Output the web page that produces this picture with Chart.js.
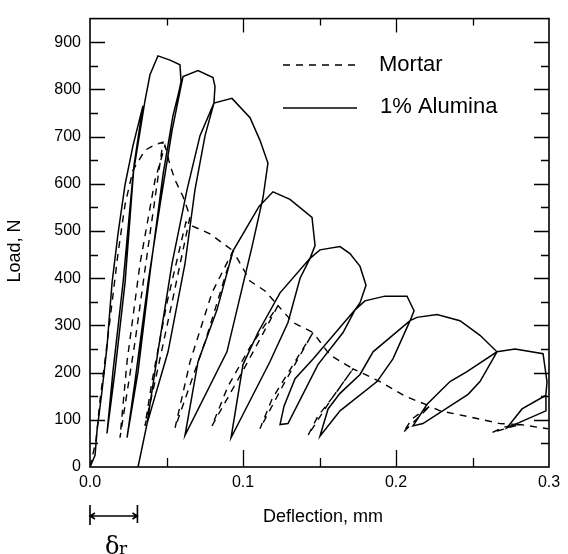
<!DOCTYPE html>
<html>
<head>
<meta charset="utf-8">
<script src="https://cdn.jsdelivr.net/npm/chart.js@4"></script>
<style>
  html, body { margin: 0; padding: 0; background: #fff; }
</style>
</head>
<body>
<canvas id="myChart" width="568" height="554"></canvas>
<script>
// Deflection (mm) and load (N), in drawing order
const aluminaX = [
  0, 0.0033, 0.0046, 0.0078, 0.0111, 0.0144, 0.0183, 0.0229, 0.0281, 0.0346,
  0.0288, 0.0229, 0.0163, 0.0111,
  0.0150, 0.0216, 0.0281, 0.0359,
  0.0392, 0.0444, 0.0523, 0.0588, 0.0595, 0.0582,
  0.0542, 0.0477, 0.0392, 0.0314, 0.0242,
  0.0294, 0.0379, 0.0458, 0.0536, 0.0588, 0.0608,
  0.0706, 0.0804, 0.0817, 0.0810,
  0.0752, 0.0686, 0.0621, 0.0510, 0.0373, 0.0314,
  0.0373, 0.0444, 0.0536, 0.0634, 0.0719, 0.0810,
  0.0928, 0.1046, 0.1111, 0.1163, 0.1131,
  0.1059, 0.0895, 0.0621,
  0.0706, 0.0830, 0.0935, 0.1105,
  0.1196, 0.1307, 0.1451, 0.1471, 0.1438,
  0.1373, 0.1294, 0.1176, 0.0922,
  0.1000, 0.1098, 0.1242, 0.1438,
  0.1503, 0.1634, 0.1699, 0.1765, 0.1804, 0.1765, 0.1732,
  0.1654, 0.1490, 0.1294, 0.1242,
  0.1268, 0.1340, 0.1458, 0.1732,
  0.1797, 0.1928, 0.2072, 0.2118, 0.2092,
  0.1980, 0.1876, 0.1634, 0.1503,
  0.1556, 0.1634, 0.1765, 0.1850, 0.2092,
  0.2137, 0.2268, 0.2418, 0.2549, 0.2660,
  0.2549, 0.2471, 0.2176, 0.2111,
  0.2203, 0.2353, 0.2464, 0.2660,
  0.2778, 0.2961, 0.2987, 0.2980, 0.2980,
  0.2725,
  0.2824, 0.2980
];
const aluminaY = [
  0, 25, 77, 160, 254, 390, 494, 598, 681, 765,
  640, 390, 202, 71,
  202, 390, 619, 775,
  831, 871, 862, 852, 817, 796,
  744, 619, 410, 202, 62,
  181, 390, 556, 712, 796, 827,
  840, 825, 806, 771,
  702, 587, 431, 244, 92, 0,
  92, 244, 431, 587, 702, 771,
  781, 740, 692, 644, 571,
  467, 244, 67,
  223, 333, 458, 552,
  583, 567, 529, 469, 442,
  400, 306, 223, 62,
  217, 285, 369, 442,
  460, 467, 452, 425, 385, 348, 333,
  285, 217, 92, 90,
  129, 187, 229, 333,
  352, 362, 362, 331, 310,
  229, 181, 119, 65,
  123, 156, 196, 244, 310,
  317, 323, 310, 279, 244,
  181, 154, 92, 87,
  133, 181, 202, 244,
  250, 240, 181, 154, 119,
  83,
  123, 152
];
const mortarX = [
  0, 0.0039, 0.0065, 0.0105, 0.0144, 0.0183, 0.0229, 0.0281, 0.0359, 0.0425, 0.0477,
  0.0392, 0.0294, 0.0196,
  0.0242, 0.0327, 0.0425, 0.0490,
  0.0523, 0.0556, 0.0608, 0.0654,
  0.0536, 0.0425, 0.0359,
  0.0405, 0.0503, 0.0627,
  0.0673, 0.0784, 0.0935,
  0.0752, 0.0556,
  0.0654, 0.0797, 0.0935,
  0.1046, 0.1144, 0.1229,
  0.1013, 0.0797,
  0.0902, 0.1046, 0.1229,
  0.1327, 0.1458,
  0.1275, 0.1111,
  0.1190, 0.1307, 0.1458,
  0.1569, 0.1719,
  0.1569, 0.1425,
  0.1490, 0.1601, 0.1719,
  0.1895, 0.2059, 0.2222,
  0.2124, 0.2046,
  0.2105, 0.2222,
  0.2288, 0.2484, 0.2680, 0.2810,
  0.2712, 0.2627,
  0.2712, 0.2810,
  0.2993
];
const mortarY = [
  0, 56, 140, 244, 348, 452, 556, 629, 671, 683, 688,
  494, 265, 62,
  223, 431, 608, 681,
  640, 608, 573, 531,
  348, 181, 87,
  181, 348, 519,
  510, 494, 458,
  265, 83,
  223, 369, 458,
  394, 373, 342,
  212, 87,
  171, 254, 342,
  306, 285,
  181, 81,
  144, 206, 285,
  237, 208,
  140, 67,
  108, 154, 208,
  181, 150, 129,
  98, 73,
  102, 129,
  119, 106, 92, 90,
  81, 73,
  85, 90,
  81
];
const xTicks = [0, 0.1, 0.2, 0.3];
const yTicks = [0, 100, 200, 300, 400, 500, 600, 700, 800, 900];
const residualDeflection = 0.031; // the delta-r span under the axis

const FONT = '"Liberation Sans", Arial, sans-serif';

function toPoints(xs, ys) {
  return xs.map((v, i) => ({ x: v, y: ys[i] }));
}

// frame and inward tick marks on all four sides
const axisFrame = {
  id: 'axisFrame',
  afterDatasetsDraw(chart) {
    const { ctx, chartArea: a, scales: { x, y } } = chart;
    ctx.save();
    ctx.strokeStyle = '#000';
    ctx.lineWidth = 1.6;
    ctx.strokeRect(a.left, a.top, a.right - a.left, a.bottom - a.top);
    ctx.lineWidth = 1.3;
    ctx.beginPath();
    for (let v = 50; v <= 900; v += 50) {
      const py = Math.round(y.getPixelForValue(v)) + 0.5;
      const len = v % 100 === 0 ? 15 : 8;
      ctx.moveTo(a.left, py); ctx.lineTo(a.left + len, py);
      ctx.moveTo(a.right, py); ctx.lineTo(a.right - len, py);
    }
    for (let i = 1; i < 6; i++) {
      const px = Math.round(x.getPixelForValue(i * 0.05)) + 0.5;
      const major = i % 2 === 0;
      ctx.moveTo(px, a.bottom); ctx.lineTo(px, a.bottom - (major ? 17 : 9));
      ctx.moveTo(px, a.top); ctx.lineTo(px, a.top + (major ? 14 : 7));
    }
    ctx.stroke();
    ctx.restore();
  },
  afterDraw(chart) {
    const { ctx, chartArea: a, scales: { x } } = chart;
    ctx.save();
    ctx.fillStyle = '#000';
    ctx.strokeStyle = '#000';

    // legend
    const lx0 = a.left + 193, lx1 = a.left + 267;
    ctx.lineWidth = 1.4;
    ctx.setLineDash([7, 6]);
    ctx.beginPath(); ctx.moveTo(lx0, 65); ctx.lineTo(lx1, 65); ctx.stroke();
    ctx.setLineDash([]);
    ctx.beginPath(); ctx.moveTo(lx0, 108); ctx.lineTo(lx1, 108); ctx.stroke();
    ctx.font = '22px ' + FONT;
    ctx.textBaseline = 'middle';
    ctx.textAlign = 'left';
    ctx.fillText('Mortar', a.left + 289, 65);
    ctx.fillText('1% Alumina', a.left + 290, 107);

    // axis titles
    ctx.font = '18px ' + FONT;
    ctx.textAlign = 'center';
    ctx.fillText('Deflection, mm', 323, 517);
    ctx.save();
    ctx.translate(15, 251);
    ctx.rotate(-Math.PI / 2);
    ctx.fillText('Load, N', 0, 0);
    ctx.restore();

    // residual deflection marker
    const x0 = x.getPixelForValue(0), x1 = x.getPixelForValue(residualDeflection);
    const my = 516;
    ctx.lineWidth = 1.6;
    ctx.beginPath();
    ctx.moveTo(x0, my); ctx.lineTo(x1, my);
    ctx.moveTo(x0, my - 11); ctx.lineTo(x0, my + 9);
    ctx.moveTo(x1, my - 11); ctx.lineTo(x1, my + 7);
    ctx.moveTo(x0 + 5, my - 3); ctx.lineTo(x0, my); ctx.lineTo(x0 + 5, my + 3);
    ctx.moveTo(x1 - 5, my - 3); ctx.lineTo(x1, my); ctx.lineTo(x1 - 5, my + 3);
    ctx.stroke();
    ctx.font = '24px "DejaVu Serif", serif';
    ctx.textAlign = 'left';
    ctx.textBaseline = 'alphabetic';
    ctx.fillText('δ', x0 + 15, 554);
    ctx.font = '17px "DejaVu Serif", serif';
    ctx.fillText('r', x0 + 29, 554);
    ctx.restore();
  }
};

new Chart(document.getElementById('myChart'), {
  type: 'line',
  data: {
    datasets: [{
      label: 'Mortar',
      data: toPoints(mortarX, mortarY),
      borderColor: '#000',
      borderWidth: 1.4,
      borderDash: [7, 6],
      pointRadius: 0,
      tension: 0,
      fill: false
    }, {
      label: '1% Alumina',
      data: toPoints(aluminaX, aluminaY),
      borderColor: '#000',
      borderWidth: 1.5,
      pointRadius: 0,
      tension: 0,
      fill: false
    }]
  },
  options: {
    responsive: false,
    animation: false,
    devicePixelRatio: 1,
    layout: { padding: { left: 0, top: 11, right: 19, bottom: 0 } },
    plugins: { legend: { display: false }, tooltip: { enabled: false } },
    scales: {
      x: {
        type: 'linear',
        min: 0,
        max: 0.3,
        grid: { display: false, drawTicks: false },
        border: { display: false },
        afterBuildTicks: s => { s.ticks = xTicks.map(v => ({ value: v })); },
        afterFit: s => { s.height = 87; },
        ticks: {
          color: '#000',
          padding: 6,
          maxRotation: 0,
          font: { family: FONT, size: 16 },
          callback: v => v.toFixed(1)
        }
      },
      y: {
        min: 0,
        max: 950,
        grid: { display: false, drawTicks: false },
        border: { display: false },
        afterBuildTicks: s => { s.ticks = yTicks.map(v => ({ value: v })); },
        afterFit: s => { s.width = 90; },
        ticks: {
          color: '#000',
          padding: 9,
          font: { family: FONT, size: 16 },
          callback: v => String(v)
        }
      }
    }
  },
  plugins: [axisFrame]
});
</script>
</body>
</html>
